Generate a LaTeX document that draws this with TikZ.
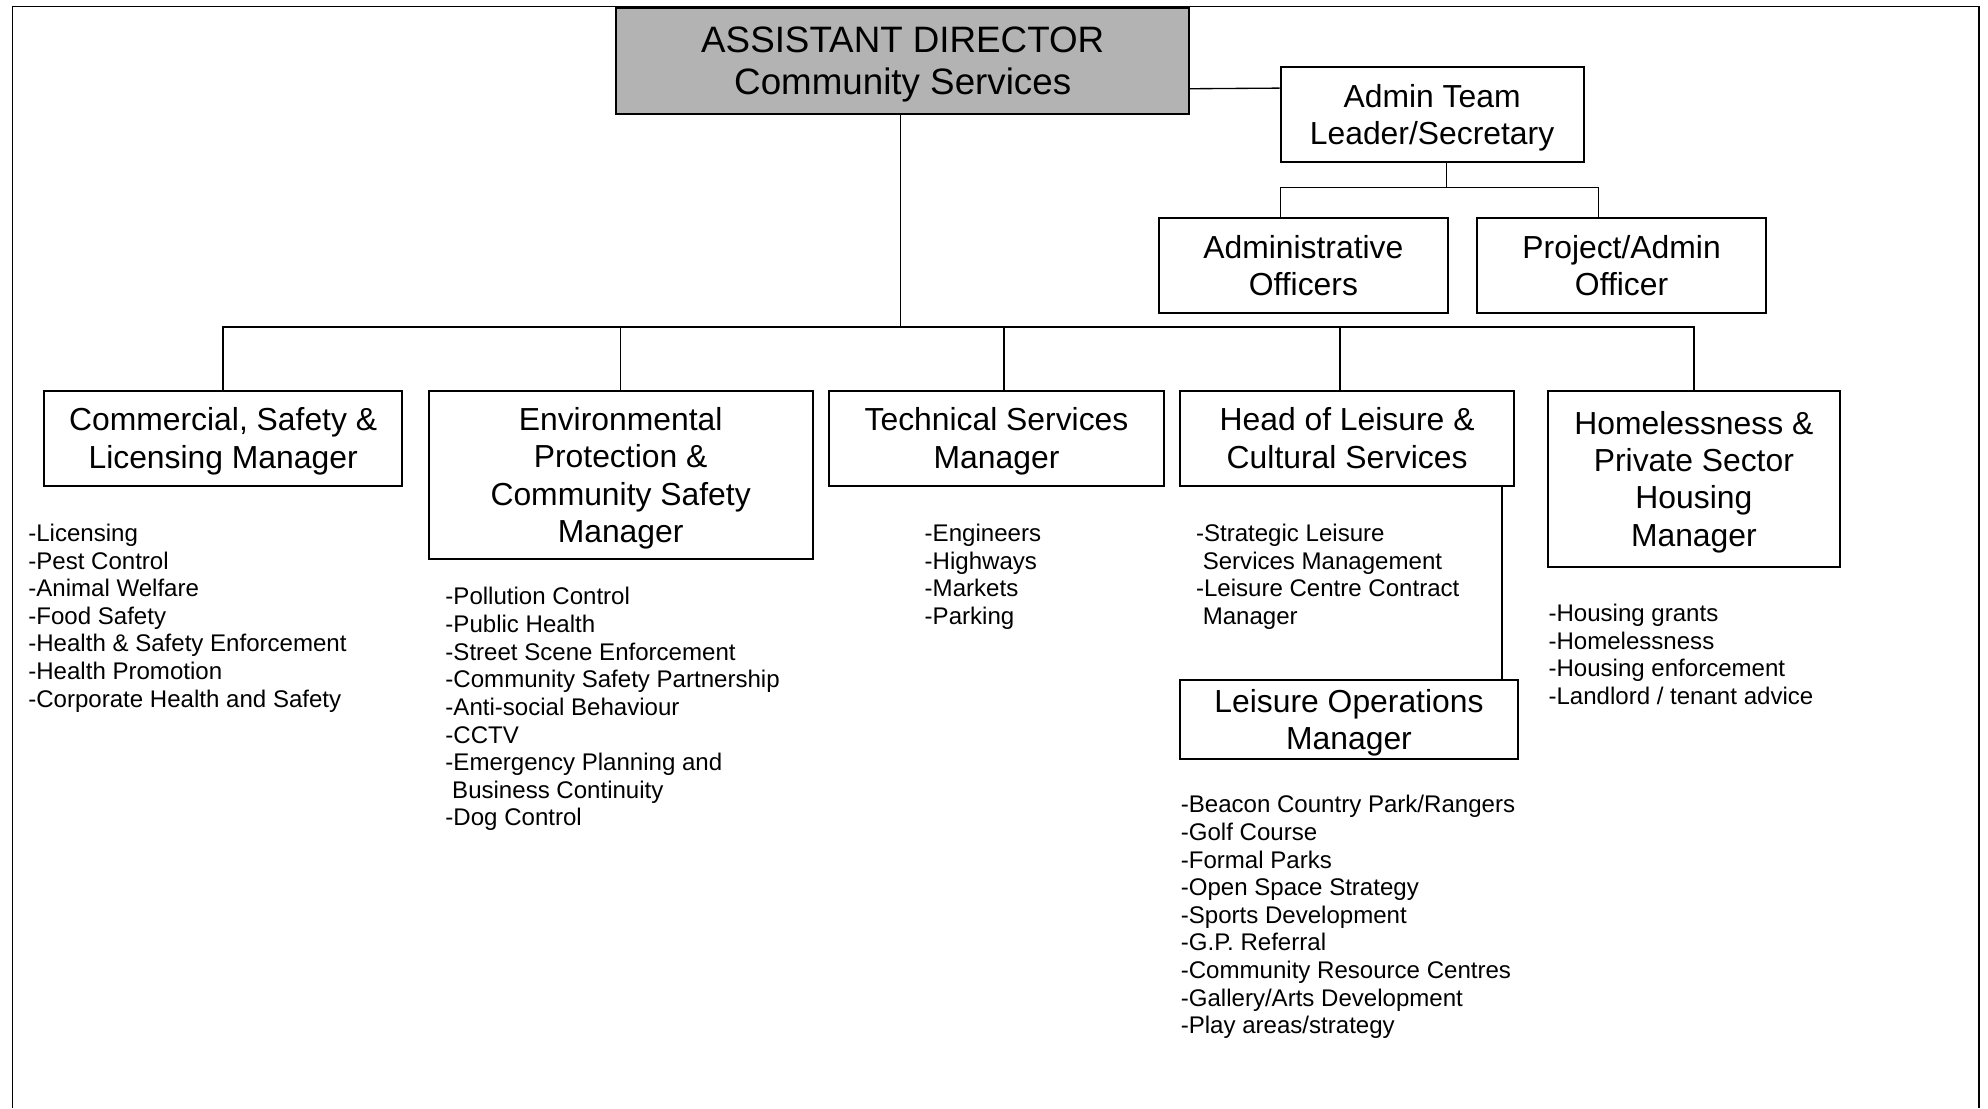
\documentclass[tikz,border=0pt]{standalone}
\usepackage{fontspec}
\setmainfont{Liberation Sans}
\definecolor{dirgray}{RGB}{179,179,179}

\begin{document}
\begin{tikzpicture}[x=0.02cm,y=-0.02cm,
    post/.style={draw,line width=0.9pt,align=center,inner sep=0pt,text depth=0pt,font=\fontsize{14.3}{16.8}\selectfont},
    duties/.style={anchor=north west,align=left,inner sep=0pt,font=\fontsize{10.8}{12.4}\selectfont},
    link/.style={line width=0.6pt}]
    \useasboundingbox (0,0) rectangle (1568,874);
    \draw[link] (10,874) -- (10,5) -- (1561,5) -- (1561,874);
    \node[post,fill=dirgray,minimum width=9.04cm,minimum height=1.68cm,font=\fontsize{16.5}{19}\selectfont] (dir) at (712,48) {ASSISTANT DIRECTOR\\Community Services};
    \node[post,minimum width=4.78cm,minimum height=1.5cm] (adm) at (1129.5,90.5) {Admin Team\\Leader/Secretary};
    \node[post,minimum width=4.56cm,minimum height=1.5cm] (aoff) at (1028,209.5) {Administrative\\Officers};
    \node[post,minimum width=4.56cm,minimum height=1.5cm] (poff) at (1279,209.5) {Project/Admin\\Officer};
    \node[post,minimum width=5.64cm,minimum height=1.5cm] (csl) at (176,345.5) {Commercial, Safety \&\\Licensing Manager};
    \node[post,minimum width=6.06cm,minimum height=2.66cm] (epc) at (489.5,374.5) {Environmental\\Protection \&\\Community Safety\\Manager};
    \node[post,minimum width=5.28cm,minimum height=1.5cm] (tsm) at (786,345.5) {Technical Services\\Manager};
    \node[post,minimum width=5.26cm,minimum height=1.5cm] (hlc) at (1062.5,345.5) {Head of Leisure \&\\Cultural Services};
    \node[post,minimum width=4.6cm,minimum height=2.78cm] (hps) at (1336,377.5) {Homelessness \&\\Private Sector\\Housing\\Manager};
    \node[post,minimum width=5.32cm,minimum height=1.26cm] (lom) at (1064,567.5) {Leisure Operations\\Manager};

    \coordinate (bus) at (710,258);
    \coordinate (admj) at (1141,148);
    \draw[link] ([yshift=-0.44cm]dir.east) -- ([yshift=0.42cm]adm.west);
    \draw[link] (admj |- adm.south) -- (admj);
    \draw[link] ([xshift=-0.36cm]aoff.north) |- (admj) -| ([xshift=-0.36cm]poff.north);
    \draw[link] (dir.south -| bus) -- (bus);
    \draw[link] (csl.north) |- (hps.north |- bus) -- (hps.north);
    \draw[link] (epc.north) -- (epc.north |- bus);
    \draw[link] ([xshift=0.12cm]tsm.north) -- ([xshift=0.12cm]tsm.north |- bus);
    \draw[link] ([xshift=-0.11cm]hlc.north) -- ([xshift=-0.11cm]hlc.north |- bus);
    \draw[link] ([xshift=-0.2cm]hlc.south east) -- ([xshift=-0.2cm]hlc.south east |- lom.north);

    \node[duties] (cslx) at (22,413) {-Licensing\\-Pest Control\\-Animal Welfare\\-Food Safety\\-Health \& Safety Enforcement\\-Health Promotion\\-Corporate Health and Safety};
    \node[duties] (epcx) at (351,463) {-Pollution Control\\-Public Health\\-Street Scene Enforcement\\-Community Safety Partnership\\-Anti-social Behaviour\\-CCTV\\-Emergency Planning and\\\hspace*{.28em}Business Continuity\\-Dog Control};
    \node[duties] (tsmx) at (729,413) {-Engineers\\-Highways\\-Markets\\-Parking};
    \node[duties] (hlcx) at (943,413) {-Strategic Leisure\\\hspace*{.28em}Services Management\\-Leisure Centre Contract\\\hspace*{.28em}Manager};
    \node[duties] (hpsx) at (1221,476) {-Housing grants\\-Homelessness\\-Housing enforcement\\-Landlord / tenant advice};
    \node[duties] (lomx) at (931,627) {-Beacon Country Park/Rangers\\-Golf Course\\-Formal Parks\\-Open Space Strategy\\-Sports Development\\-G.P. Referral\\-Community Resource Centres\\-Gallery/Arts Development\\-Play areas/strategy};
\end{tikzpicture}
\end{document}
